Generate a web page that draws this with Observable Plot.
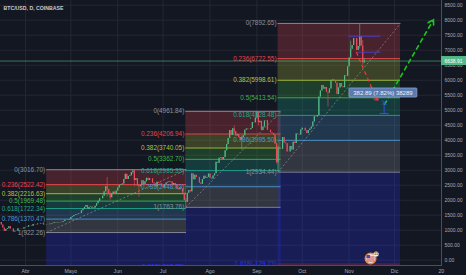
<!DOCTYPE html>
<html>
<head>
<meta charset="utf-8">
<script src="https://cdn.jsdelivr.net/npm/d3@7"></script>
<script src="https://cdn.jsdelivr.net/npm/@observablehq/plot@0.6"></script>
<style>
  html, body { margin: 0; padding: 0; background: #131722; }
  #chart { width: 466px; height: 275px; overflow: hidden; }
</style>
</head>
<body>
<div id="chart"></div>
<script>
// ---- BTC/USD daily candles (Coinbase), closes per month ----
const title = "BTC/USD, D, COINBASE";
const firstDay = "2017-03-15";
const firstOpen = 1245;
const closeMar = [1255,1172,1070,969,1022,1047,1119,1041,1036,939,964,968,1045,1046,1040,1037,1081];
const closeApr = [1090,1099,1146,1139,1128,1192,1188,1180,1206,1210,1227,1215,1170,1177,1184,1185,1202,1212,1223,1252,1256,1244,1250,1253,1265,1290,1333,1329,1343,1353];
const closeMay = [1421,1452,1490,1509,1523,1545,1555,1651,1702,1761,1825,1690,1759,1776,1722,1732,1801,1883,1962,2046,2049,2131,2279,2450,2350,2210,2080,2205,2270,2195,2303];
const closeJun = [2407,2488,2515,2540,2686,2863,2692,2794,2812,2921,2977,2658,2717,2474,2448,2491,2647,2518,2611,2730,2658,2718,2712,2570,2542,2444,2596,2569,2540,2474];
const closeJul = [2426,2506,2573,2599,2621,2609,2502,2560,2510,2380,2350,2409,2370,2233,1990,1930,2230,2320,2280,2870,2680,2830,2757,2760,2570,2530,2690,2800,2730,2760,2870];
const closeAug = [2730,2710,2810,2880,3265,3230,3400,3420,3345,3420,3650,3860,4060,4325,4160,4385,4290,4140,4180,4090,4000,4090,4145,4330,4370,4350,4350,4390,4590,4580,4740];
const closeSep = [4920,4580,4630,4330,4440,4640,4650,4330,4330,4250,4220,4170,3880,3250,3700,3690,3700,4090,3910,3880,3610,3610,3790,3670,3930,3890,4210,4190,4170,4340];
const closeOct = [4400,4400,4310,4220,4320,4370,4440,4610,4780,4770,4820,5440,5640,5820,5700,5760,5600,5570,5710,5990,6010,5980,5900,5520,5740,5890,5780,5750,6150,6130,6450];
const closeNov = [6740,7030,7160,7390,7390,6990,7120,7460,7140,6580,6638.91];
// days with visible wicks: [date, high, low]
const wicks = [
  ["2017-05-25", 2760, 2100], ["2017-05-27", 2270, 2000], ["2017-06-11", 3016.7, 2870],
  ["2017-06-12", 2990, 2450], ["2017-06-15", 2530, 2100], ["2017-07-16", 2060, 1763.76],
  ["2017-07-20", 2900, 2270], ["2017-08-17", 4480, 4220], ["2017-08-22", 4140, 3680],
  ["2017-09-01", 4961.84, 4700], ["2017-09-02", 4950, 4470], ["2017-09-14", 3890, 3200],
  ["2017-09-15", 3800, 2972], ["2017-10-18", 5600, 5110], ["2017-11-02", 7300, 6750],
  ["2017-11-08", 7880, 7040], ["2017-11-10", 7320, 6500], ["2017-11-11", 6720, 6560]
];
const lastPrice = 6638.91;

// ---- Fibonacci retracements ----
const fibRatios = [0, 0.236, 0.382, 0.5, 0.618, 0.786, 1, 1.618];
const fibColors = ["#8f929b", "#e8434f", "#b4c43c", "#3fb64a", "#1ea88c", "#4a98d4", "#8f929b", "#2b30f2"];
const fibLineColors = ["#8f929b", "#e8434f", "#b4c43c", "#3fb64a", "#1ea88c", "#4a98d4", "#8f929b", "#7a2a60"];
const fib1Prices = [3016.70, 2522.42, 2216.63, 1969.48, 1722.34, 1370.47, 922.26, -372.10];
const fib2Prices = [4961.84, 4206.94, 3740.05, 3362.70, 2985.33, 2448.03, 1763.76, -212.73];
const fib3Prices = [7892.65, 6722.55, 5998.61, 5413.54, 4828.48, 3995.50, 2934.44, -129.73];
const fibSpans = [["2017-04-15", "2017-07-16T12:00Z"], ["2017-07-16", "2017-09-17"], ["2017-09-15", "2017-12-05"]];

// ---- drawings ----
const redPath = {from: ["2017-11-05T21:00Z", 6923], to: ["2017-11-19T20:00Z", 5290]};
const greenPath = {from: ["2017-11-24T10:00Z", 5190], to: ["2017-12-26T20:00Z", 8023]};
const hLines = [
  {from: "2017-10-31T14:00Z", to: "2017-11-21T16:00Z", price: 7467},
  {from: "2017-11-05T14:00Z", to: "2017-11-21T16:00Z", price: 6933}
];
const measure = {date: "2017-11-24T03:00Z", top: 5257, bottom: 4890, left: "2017-11-21T03:00Z", right: "2017-11-27T00:00Z"};
const tip = {date: "2017-11-23T16:00Z", price: 5573, text: "382.89 (7.82%) 38289"};
const eventDate = "2017-11-15T12:00Z";

// ---- axis ticks ----
const monthTicks = ["2017-04-01","2017-05-01","2017-06-01","2017-07-01","2017-08-01","2017-09-01","2017-10-01","2017-11-01","2017-12-01","2018-01-01"].map(d => new Date(d));
const monthLabels = ["Abr","Mayo","Jun","Jul","Ago","Sep","Oct","Nov","Dic","20"];
const priceTicks = d3.range(0, 8501, 500);

// ---- build tables ----
const day = 864e5;
const closes = [].concat(closeMar, closeApr, closeMay, closeJun, closeJul, closeAug, closeSep, closeOct, closeNov);
const wickMap = new Map(wicks.map(([d, h, l]) => [d, [h, l]]));
const t0 = +new Date(firstDay);
const candles = closes.map((close, i) => {
  const date = new Date(t0 + i * day);
  const open = i ? closes[i - 1] : firstOpen;
  const w = wickMap.get(date.toISOString().slice(0, 10));
  const hi = Math.max(open, close), lo = Math.min(open, close);
  return {date, open, close, high: w ? Math.max(w[0], hi) : hi, low: w ? Math.min(w[1], lo) : lo, up: close >= open};
});

const fibPrices = [fib1Prices, fib2Prices, fib3Prices];
const fibs = fibPrices.map((prices, f) => ({
  start: new Date(fibSpans[f][0]), end: new Date(fibSpans[f][1]),
  high: prices[0], low: prices[6]
}));
const levels = fibs.flatMap((fb, f) => fibRatios.map((r, k) => ({
  start: fb.start, end: fb.end, ratio: r, price: fibPrices[f][k],
  color: fibColors[k], line: fibLineColors[k]
})));
const bands = fibs.flatMap((fb, f) => fibRatios.slice(1).map((r, j) => ({
  start: fb.start, end: fb.end, y1: fibPrices[f][j], y2: fibPrices[f][j + 1], color: fibColors[j + 1]
})));

const labelOf = new Map(monthTicks.map((d, i) => [+d, monthLabels[i]]));
const dt = s => new Date(s);

// ---- view ----
const upColor = "#53b987", downColor = "#eb4d5c";
const gridColor = "#242833", axisColor = "#4b4f5c", axisText = "#a8abb4";
const apr1 = +new Date("2017-04-01");
const xDomain = [new Date(apr1 - 16.53 * day), new Date(apr1 + 275.08 * day)];
const yDomain = [-176.7, 8656.7];
// level labels whose text still reaches into the price pane
const visibleLevels = levels.filter(d => d.price > yDomain[0] - 120);

const chart = Plot.plot({
  width: 466, height: 275,
  marginTop: 0, marginRight: 25, marginBottom: 10, marginLeft: 0,
  style: {background: "transparent", fontFamily: "'Liberation Sans', Arial, sans-serif", color: axisText, overflow: "visible"},
  x: {type: "utc", domain: xDomain},
  y: {domain: yDomain},
  marks: [
    Plot.gridX(monthTicks.slice(0, 9), {stroke: gridColor, strokeOpacity: 1}),
    Plot.gridY(priceTicks, {stroke: gridColor, strokeOpacity: 1}),
    // fib bands and levels
    Plot.rect(bands, {x1: "start", x2: "end", y1: "y1", y2: "y2", fill: d => d.color, fillOpacity: 0.25, clip: true}),
    Plot.ruleY(levels, {x1: "start", x2: "end", y: "price", stroke: d => d.line, strokeWidth: 0.9, clip: true}),
    Plot.link(fibs, {x1: "start", y1: "low", x2: "end", y2: "high", stroke: "#9598a1", strokeOpacity: 0.8, strokeDasharray: "2,2", strokeWidth: 0.8}),
    // candles
    Plot.ruleX(candles, {x: "date", y1: "low", y2: "high", stroke: d => d.up ? upColor : downColor, strokeWidth: 0.6}),
    Plot.ruleX(candles, {x: "date", y1: "open", y2: "close", stroke: d => d.up ? upColor : downColor, strokeWidth: 1.2}),
    // fib labels
    Plot.text(visibleLevels, {x: "start", y: "price", text: d => `${d.ratio}(${d.price.toFixed(2)})`, fill: d => d.color,
      textAnchor: "end", dx: -1.5, fontSize: 6.4, clip: true}),
    // last price line
    Plot.ruleY([lastPrice], {stroke: upColor, strokeOpacity: 0.75, strokeWidth: 0.8}),
    // drawings
    Plot.link(hLines, {x1: d => dt(d.from), x2: d => dt(d.to), y1: "price", y2: "price", stroke: "#4b3fc4", strokeWidth: 1}),
    Plot.arrow([redPath], {x1: d => dt(d.from[0]), y1: d => d.from[1], x2: d => dt(d.to[0]), y2: d => d.to[1],
      stroke: "#e53935", strokeWidth: 1.3, strokeDasharray: "3,4", headLength: 5}),
    Plot.arrow([greenPath], {x1: d => dt(d.from[0]), y1: d => d.from[1], x2: d => dt(d.to[0]), y2: d => d.to[1],
      stroke: "#1fc41f", strokeWidth: 1.6, strokeDasharray: "4,4", headLength: 6}),
    Plot.link([measure], {x1: d => dt(d.date), x2: d => dt(d.date), y1: "top", y2: "bottom", stroke: "#2f4fe0", strokeWidth: 1}),
    Plot.link([measure], {x1: d => dt(d.left), x2: d => dt(d.right), y1: "bottom", y2: "bottom", stroke: "#2f4fe0", strokeWidth: 1.2}),
    Plot.dot([measure], {x: d => dt(d.date), y: "top", symbol: "times", r: 2.2, stroke: "#2f4fe0", strokeWidth: 1}),
    // axes
    Plot.axisX(monthTicks, {anchor: "bottom", tickFormat: d => labelOf.get(+d), tickSize: 0, tickPadding: 3.5, fontSize: 5.2, fill: axisText, label: null}),
    Plot.axisY(priceTicks, {anchor: "right", tickFormat: d3.format(".2f"), tickSize: 0, tickPadding: 3, fontSize: 5, fill: axisText, label: null}),
    Plot.frame({anchor: "bottom", stroke: axisColor}),
    Plot.frame({anchor: "right", stroke: axisColor}),
    Plot.text([title], {frameAnchor: "top-left", dx: 3, dy: 7.5, lineAnchor: "middle", textAnchor: "start",
      fontSize: 5.2, fontWeight: "bold", fill: "#c9ccd3"})
  ]
});

// price tag, measurement tooltip and event marker, placed with the chart's scales
const svg = d3.select(chart);
const sx = chart.scale("x"), sy = chart.scale("y");
const py = sy.apply(lastPrice);
const rightEdge = sx.range[1];
svg.append("rect").attr("x", rightEdge).attr("y", py - 4.5).attr("width", 466 - rightEdge).attr("height", 9).attr("fill", upColor);
svg.append("text").attr("x", rightEdge + 12.5).attr("y", py).attr("text-anchor", "middle").attr("dominant-baseline", "central")
  .attr("font-size", 5).attr("fill", "#ffffff").text(d3.format(".2f")(lastPrice));

const tx = sx.apply(dt(tip.date)), ty = sy.apply(tip.price);
svg.append("rect").attr("x", tx - 34).attr("y", ty - 4.6).attr("width", 68).attr("height", 9.2).attr("rx", 1)
  .attr("fill", "#5a7bb0").attr("stroke", "#9fb4d8").attr("stroke-width", 0.6);
svg.append("text").attr("x", tx).attr("y", ty).attr("text-anchor", "middle").attr("dominant-baseline", "central")
  .attr("font-size", 6).attr("fill", "#eef2f8").text(tip.text);

const ex = sx.apply(dt(eventDate)), ey = sy.range[0] - 6.5;
const ev = svg.append("g");
ev.append("circle").attr("cx", ex).attr("cy", ey).attr("r", 5.3).attr("fill", "#e6dde0").attr("stroke", "#e8892b").attr("stroke-width", 1.4);
[-2, 0, 2].forEach(o => ev.append("line").attr("x1", ex - 4).attr("x2", ex + 4).attr("y1", ey + o + 0.5).attr("y2", ey + o + 0.5)
  .attr("stroke", "#d23a3a").attr("stroke-width", 0.9));
ev.append("rect").attr("x", ex - 4).attr("y", ey - 3.5).attr("width", 3.5).attr("height", 3).attr("fill", "#3a4fa8");
ev.append("circle").attr("cx", ex + 5.5).attr("cy", ey - 4.5).attr("r", 2.6).attr("fill", "#f2f2f2");
ev.append("text").attr("x", ex + 5.5).attr("y", ey - 4.5).attr("text-anchor", "middle").attr("dominant-baseline", "central")
  .attr("font-size", 3.8).attr("font-weight", "bold").attr("fill", "#333").text("11");

document.getElementById("chart").appendChild(chart);
</script>
</body>
</html>
